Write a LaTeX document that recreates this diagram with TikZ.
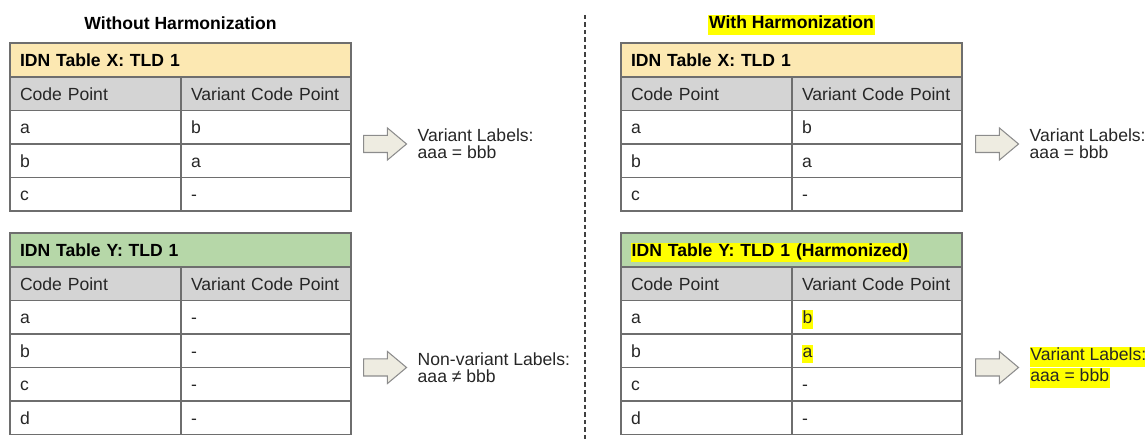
\documentclass[tikz,border=0pt]{standalone}
\usepackage{fontspec}
\setmainfont{Liberation Sans}
\usepackage{tikz}
\usetikzlibrary{positioning}
\usetikzlibrary{shapes.arrows}
\usepackage{xcolor}
\definecolor{titlex}{HTML}{FCE8B2}
\definecolor{titley}{HTML}{B6D7A8}
\definecolor{hdrgray}{HTML}{D4D4D4}
\definecolor{rulegray}{HTML}{6E6E6E}
\definecolor{hlyellow}{HTML}{FFFF00}
\definecolor{arrowfill}{HTML}{EEECE1}
\definecolor{arrowdraw}{HTML}{8C8C8C}
\newcommand{\tfont}{\fontsize{10}{9.6}\selectfont}
\newcommand{\hlt}[1]{{\setlength{\fboxsep}{0.4pt}\colorbox{hlyellow}{\strut #1}}}
\tikzset{
cell/.style={draw=rulegray,
  line width=0.7pt, outer sep=0pt,
    font=\tfont, text=black!85,
    minimum height=0.67cm, inner xsep=0.2cm, inner ysep=0pt,
    text height=8pt, text depth=0.8pt, align=left},
colA/.style={cell, text width=3.02cm},
colB/.style={cell, text width=3.0cm},
ttl/.style={cell, text width=6.42cm, minimum height=0.68cm, font=\tfont\bfseries, text=black},
hdr/.style={fill=hdrgray},
}
\tikzset{fatarrow/.style={single arrow, draw=arrowdraw, fill=arrowfill, line width=0.6pt,
  minimum height=0.86cm, inner sep=0.16cm, single arrow head extend=0.15cm,
  single arrow tip angle=80}}
\tikzset{result/.style={font=\tfont, align=left, inner sep=0pt, text=black!85},
heading/.style={font=\tfont\bfseries, inner sep=0pt}}

\begin{document}
\begin{tikzpicture}
    \useasboundingbox (0,0) rectangle (22.9,8.78);

    % without harmonization
    \node [ttl, fill=titlex, anchor=north west] (xl-t) at (0.2,7.92) {IDN Table X: TLD 1};
    \node [colA, hdr, below=0pt of xl-t.south west, anchor=north west] (xl-0-1) {Code Point};
    \node [colB, hdr, right=0pt of xl-0-1] (xl-0-2) {Variant Code Point};
    \foreach \p/\v [count=\i, remember=\i as \last (initially 0)] in {a/b, b/a, c/-} {
      \node [colA, below=0pt of xl-\last-1.south west, anchor=north west] (xl-\i-1) {\p};
      \node [colB, right=0pt of xl-\i-1] (xl-\i-2) {\v};
    }

    \node [ttl, fill=titley, anchor=north west] (yl-t) at (0.2,4.12) {IDN Table Y: TLD 1};
    \node [colA, hdr, below=0pt of yl-t.south west, anchor=north west] (yl-0-1) {Code Point};
    \node [colB, hdr, right=0pt of yl-0-1] (yl-0-2) {Variant Code Point};
    \foreach \p/\v [count=\i, remember=\i as \last (initially 0)] in {a/-, b/-, c/-, d/-} {
      \node [colA, below=0pt of yl-\last-1.south west, anchor=north west] (yl-\i-1) {\p};
      \node [colB, right=0pt of yl-\i-1] (yl-\i-2) {\v};
    }

    \node [heading, above=0.26cm of xl-t] (xl-head) {Without Harmonization};
    \node [fatarrow, right=0.24cm of xl-1-2.south east] (xl-arr) {};
    \node [result, right=0.2cm of xl-arr] (xl-res) {Variant Labels:\\aaa = bbb};
    \node [fatarrow, right=0.24cm of yl-2-2.south east] (yl-arr) {};
    \node [result, right=0.2cm of yl-arr] (yl-res) {Non-variant Labels:\\aaa ≠ bbb};

    % with harmonization
    \node [ttl, fill=titlex, anchor=north west] (xr-t) at (12.42,7.92) {IDN Table X: TLD 1};
    \node [colA, hdr, below=0pt of xr-t.south west, anchor=north west] (xr-0-1) {Code Point};
    \node [colB, hdr, right=0pt of xr-0-1] (xr-0-2) {Variant Code Point};
    \foreach \p/\v [count=\i, remember=\i as \last (initially 0)] in {a/b, b/a, c/-} {
      \node [colA, below=0pt of xr-\last-1.south west, anchor=north west] (xr-\i-1) {\p};
      \node [colB, right=0pt of xr-\i-1] (xr-\i-2) {\v};
    }

    \node [ttl, fill=titley, anchor=north west] (yr-t) at (12.42,4.12) {\hlt{IDN Table Y: TLD 1 (Harmonized)}};
    \node [colA, hdr, below=0pt of yr-t.south west, anchor=north west] (yr-0-1) {Code Point};
    \node [colB, hdr, right=0pt of yr-0-1] (yr-0-2) {Variant Code Point};
    \foreach \p/\v [count=\i, remember=\i as \last (initially 0)] in {a/\hlt{b}, b/\hlt{a}, c/-, d/-} {
      \node [colA, below=0pt of yr-\last-1.south west, anchor=north west] (yr-\i-1) {\p};
      \node [colB, right=0pt of yr-\i-1] (yr-\i-2) {\v};
    }

    \node [heading, above=0.16cm of xr-t] (xr-head) {\hlt{With Harmonization}};
    \node [fatarrow, right=0.26cm of xr-1-2.south east] (xr-arr) {};
    \node [result, right=0.2cm of xr-arr] (xr-res) {Variant Labels:\\aaa = bbb};
    \node [fatarrow, right=0.26cm of yr-2-2.south east] (yr-arr) {};
    \node [result, right=0.2cm of yr-arr] (yr-res) {\hlt{Variant Labels:}\\\hlt{aaa = bbb}};

    % separator
    \coordinate (sep-top) at (11.7,8.48);
    \coordinate (sep-bot) at (11.7,0);
    \draw [black!75, line width=0.8pt, dash pattern=on 0.09cm off 0.06cm] (sep-top) -- (sep-bot);
\end{tikzpicture}
\end{document}
